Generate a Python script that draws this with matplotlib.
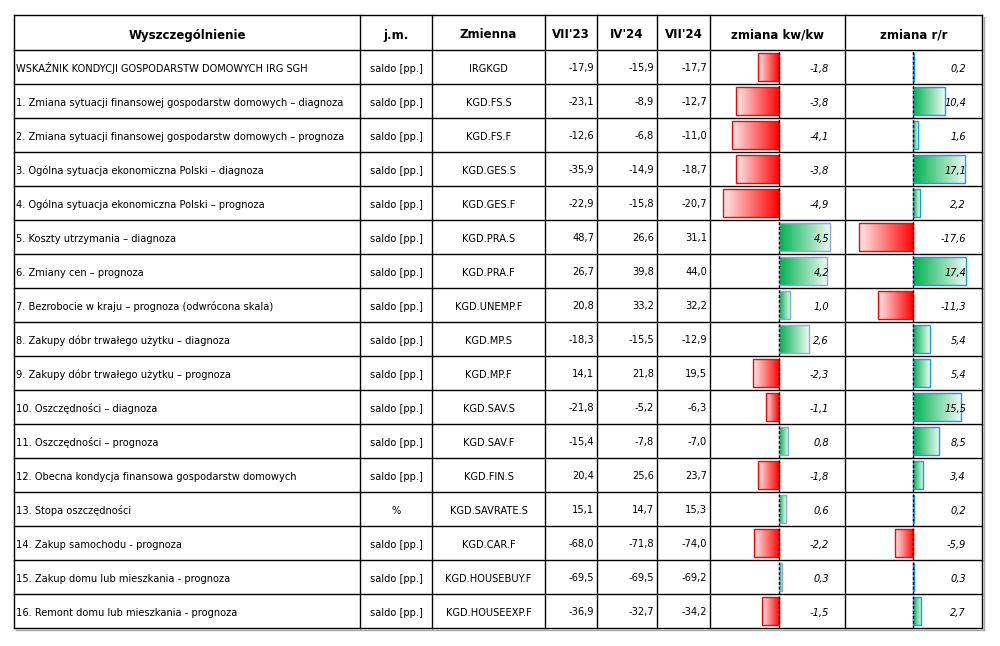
import matplotlib
matplotlib.use("Agg")
import matplotlib.pyplot as plt
import numpy as np
from matplotlib.colors import LinearSegmentedColormap

plt.rcParams['font.family'] = ['DejaVu Sans']

# table data
names = [
    "WSKAŹNIK KONDYCJI GOSPODARSTW DOMOWYCH IRG SGH",
    "1. Zmiana sytuacji finansowej gospodarstw domowych – diagnoza",
    "2. Zmiana sytuacji finansowej gospodarstw domowych – prognoza",
    "3. Ogólna sytuacja ekonomiczna Polski – diagnoza",
    "4. Ogólna sytuacja ekonomiczna Polski – prognoza",
    "5. Koszty utrzymania – diagnoza",
    "6. Zmiany cen – prognoza",
    "7. Bezrobocie w kraju – prognoza (odwrócona skala)",
    "8. Zakupy dóbr trwałego użytku – diagnoza",
    "9. Zakupy dóbr trwałego użytku – prognoza",
    "10. Oszczędności – diagnoza",
    "11. Oszczędności – prognoza",
    "12. Obecna kondycja finansowa gospodarstw domowych",
    "13. Stopa oszczędności",
    "14. Zakup samochodu - prognoza",
    "15. Zakup domu lub mieszkania - prognoza",
    "16. Remont domu lub mieszkania - prognoza",
]
units = ["saldo [pp.]"] * 13 + ["%"] + ["saldo [pp.]"] * 3
codes = ["IRGKGD", "KGD.FS.S", "KGD.FS.F", "KGD.GES.S", "KGD.GES.F",
         "KGD.PRA.S", "KGD.PRA.F", "KGD.UNEMP.F", "KGD.MP.S", "KGD.MP.F",
         "KGD.SAV.S", "KGD.SAV.F", "KGD.FIN.S", "KGD.SAVRATE.S", "KGD.CAR.F",
         "KGD.HOUSEBUY.F", "KGD.HOUSEEXP.F"]
vii23 = [-17.9, -23.1, -12.6, -35.9, -22.9, 48.7, 26.7, 20.8, -18.3, 14.1,
         -21.8, -15.4, 20.4, 15.1, -68.0, -69.5, -36.9]
iv24 = [-15.9, -8.9, -6.8, -14.9, -15.8, 26.6, 39.8, 33.2, -15.5, 21.8,
        -5.2, -7.8, 25.6, 14.7, -71.8, -69.5, -32.7]
vii24 = [-17.7, -12.7, -11.0, -18.7, -20.7, 31.1, 44.0, 32.2, -12.9, 19.5,
         -6.3, -7.0, 23.7, 15.3, -74.0, -69.2, -34.2]
kwkw = [-1.8, -3.8, -4.1, -3.8, -4.9, 4.5, 4.2, 1.0, 2.6, -2.3,
        -1.1, 0.8, -1.8, 0.6, -2.2, 0.3, -1.5]
rr = [0.2, 10.4, 1.6, 17.1, 2.2, -17.6, 17.4, -11.3, 5.4, 5.4,
      15.5, 8.5, 3.4, 0.2, -5.9, 0.3, 2.7]
headers = ["Wyszczególnienie", "j.m.", "Zmienna", "VII'23", "IV'24", "VII'24",
           "zmiana kw/kw", "zmiana r/r"]

W, H = 1000, 646
fig = plt.figure(figsize=(10, 6.46), dpi=100)
ax = fig.add_axes([0, 0, 1, 1])
ax.set_xlim(0, W)
ax.set_ylim(H, 0)
ax.axis('off')

cols = [14, 360, 432, 545, 597, 657, 710, 845, 982]
top, head_bot, bottom = 15, 50, 628
n = len(names)
row_h = (bottom - head_bot) / n

# grid
for x in cols:
    ax.plot([x, x], [top, bottom], color='black', lw=1.0, zorder=5)
ax.plot([cols[0], cols[-1]], [top, top], color='black', lw=1.0, zorder=5)
for i in range(n + 1):
    y = head_bot + i * row_h
    ax.plot([cols[0], cols[-1]], [y, y], color='black', lw=1.0, zorder=5)
# light shadow on outer frame
ax.plot([cols[-1] + 1.5, cols[-1] + 1.5], [top + 2, bottom + 1.5], color='#aaaaaa', lw=1.0, zorder=4)
ax.plot([cols[0] + 2, cols[-1] + 1.5], [bottom + 1.5, bottom + 1.5], color='#aaaaaa', lw=1.0, zorder=4)

# headers
for j, h in enumerate(headers):
    xc = (cols[j] + cols[j + 1]) / 2
    ax.text(xc, (top + head_bot) / 2 + 1, h, ha='center', va='center_baseline',
            fontsize=8.5, fontweight='bold')

def fmt(v):
    return f"{v:.1f}".replace('.', ',')

fs = 7.1
for i in range(n):
    yc = head_bot + (i + 0.5) * row_h + 0.5
    ax.text(cols[0] + 2, yc, names[i], ha='left', va='center_baseline', fontsize=fs)
    ax.text((cols[1] + cols[2]) / 2, yc, units[i], ha='center', va='center_baseline', fontsize=fs)
    ax.text((cols[2] + cols[3]) / 2, yc, codes[i], ha='center', va='center_baseline', fontsize=fs)
    for j, arr in zip([3, 4, 5], [vii23, iv24, vii24]):
        ax.text(cols[j + 1] - 3, yc, fmt(arr[i]), ha='right', va='center_baseline', fontsize=fs)

# data bars
red_cm = LinearSegmentedColormap.from_list('r', ['#ffeaea', '#ff0000'])
green_cm = LinearSegmentedColormap.from_list('g', ['#00b050', '#effaf3'])
grad = np.linspace(0, 1, 256).reshape(1, -1)

def data_bars(x0, x1, xlim, vals, pos_edge, text_x):
    bax = fig.add_axes([x0 / W, 1 - bottom / H, (x1 - x0) / W, (bottom - head_bot) / H])
    bax.set_xlim(*xlim)
    bax.set_ylim(n, 0)
    bax.axis('off')
    bax.patch.set_alpha(0)
    bh = 0.8
    bars = bax.barh(np.arange(n) + 0.5, vals, height=bh, facecolor='none', lw=1.0, zorder=3)
    for k, (b, v) in enumerate(zip(bars, vals)):
        yk = k + 0.5
        if v < 0:
            b.set_edgecolor('#ff0000')
            bax.imshow(grad, cmap=red_cm, aspect='auto', zorder=2,
                       extent=(v, 0, yk + bh / 2, yk - bh / 2), interpolation='bilinear')
        else:
            b.set_edgecolor(pos_edge)
            bax.imshow(grad, cmap=green_cm, aspect='auto', zorder=2,
                       extent=(0, v, yk + bh / 2, yk - bh / 2), interpolation='bilinear')
        bax.text(text_x, yk + 0.02, fmt(v), ha='right', va='center_baseline', fontsize=fs,
                 style='italic', zorder=4)
    bax.set_xlim(*xlim)
    bax.set_ylim(n, 0)
    bax.axvline(0, color='black', lw=1.0, ls=(0, (2, 1.5)), zorder=4)

kw_scale = 11.4
data_bars(cols[6], cols[7], (-(779 - cols[6]) / kw_scale, (cols[7] - 779) / kw_scale),
          kwkw, '#8ea9db', (829 - 779) / kw_scale)
rr_scale = 3.07
data_bars(cols[7], cols[8], (-(913 - cols[7]) / rr_scale, (cols[8] - 913) / rr_scale),
          rr, '#2196f3', (966 - 913) / rr_scale)

fig.savefig('out.png', dpi=100)
